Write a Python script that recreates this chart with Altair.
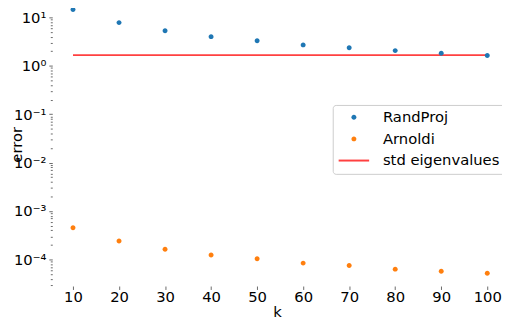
import altair as alt
import pandas as pd

# ---- data ----
k_values = [10, 20, 30, 40, 50, 60, 70, 80, 90, 100]
randproj = [14.5, 7.8, 5.3, 4.0, 3.3, 2.7, 2.36, 2.06, 1.82, 1.63]
arnoldi = [4.5e-4, 2.4e-4, 1.63e-4, 1.24e-4, 1.03e-4, 8.4e-5, 7.5e-5, 6.3e-5, 5.7e-5, 5.2e-5]
std_eigen = 1.66
series_names = ["RandProj", "Arnoldi", "std eigenvalues"]
series_colors = ["#1f77b4", "#ff7f0e", "#ff4040"]
x_ticks = [10, 20, 30, 40, 50, 60, 70, 80, 90, 100]
y_major_exps = [-4, -3, -2, -1, 0, 1]
y_major_labels = ["10⁻⁴", "10⁻³", "10⁻²", "10⁻¹", "10⁰", "10¹"]

# marker glyphs (unit-space symbol paths): small dot and a long thin bar for the line entry
dot_path = "M0.5,0A0.5,0.5,0,1,1,-0.5,0A0.5,0.5,0,1,1,0.5,0Z"
line_path = "M-3.1,-0.2H3.1V0.2H-3.1Z"
series_shapes = [dot_path, dot_path, line_path]

points = pd.DataFrame({
    "k": k_values * 2,
    "error": randproj + arnoldi,
    "series": ["RandProj"] * len(k_values) + ["Arnoldi"] * len(k_values),
})
line = pd.DataFrame({"k0": [k_values[0]], "k1": [k_values[-1]],
                     "error": [std_eigen], "series": ["std eigenvalues"]})

y_lo, y_hi = 10 ** -4.549, 10 ** 1.4065
y_tick_vals = []
for e in range(-5, 2):
    for m in range(1, 10):
        v = m * 10.0 ** e
        if y_lo <= v <= y_hi:
            y_tick_vals.append(v)

is_major = "abs(log(datum.value)/LN10 - round(log(datum.value)/LN10)) < 1e-6"
label_list = "[" + ",".join("'%s'" % s for s in y_major_labels) + "]"
label_expr = "%s ? %s[round(log(datum.value)/LN10) - (%d)] : ''" % (is_major, label_list, y_major_exps[0])

x_scale = alt.Scale(domain=[5.5, 103.2], nice=False, zero=False)
y_scale = alt.Scale(type="log", domain=[y_lo, y_hi], nice=False)
color_scale = alt.Scale(domain=series_names, range=series_colors)
shape_scale = alt.Scale(domain=series_names, range=series_shapes)

FS = 15
x_axis = alt.Axis(values=x_ticks, title="k", grid=False, domain=False,
                  tickSize=3.5, tickColor="#444", tickWidth=0.8,
                  labelFontSize=FS, labelPadding=0, labelColor="black",
                  titleFontSize=FS, titleFontWeight="normal", titleColor="black",
                  titleY=31, titleBaseline="alphabetic")
y_axis = alt.Axis(values=y_tick_vals, title="error", grid=False, domain=False,
                  labelExpr=label_expr,
                  tickSize={"condition": {"test": is_major, "value": 3.5}, "value": 2},
                  tickColor="#444", tickWidth=0.8,
                  labelFontSize=FS, labelPadding=3, labelColor="black",
                  titleFontSize=FS, titleFontWeight="normal", titleColor="black",
                  titleX=-31, titleY=149, titleAngle=270, titleBaseline="alphabetic",
                  titleAlign="center")

legend = alt.Legend(
    title=None, orient="none", legendX=285, legendY=109,
    labelFontSize=FS, labelColor="black", labelOffset=22,
    rowPadding=6, padding=5, symbolOffset=9,
    strokeColor="#cccccc", fillColor="white", cornerRadius=3,
    symbolStrokeWidth=0, symbolSize=100,
)

rule = alt.Chart(line).mark_rule(strokeWidth=2).encode(
    x=alt.X("k0:Q", scale=x_scale, axis=x_axis),
    x2="k1:Q",
    y=alt.Y("error:Q", scale=y_scale, axis=y_axis),
    stroke=alt.Stroke("series:N", scale=color_scale, legend=legend),
)

pts = alt.Chart(points).mark_point(filled=True, opacity=1, strokeWidth=0, size=100).encode(
    x=alt.X("k:Q", scale=x_scale, axis=x_axis),
    y=alt.Y("error:Q", scale=y_scale, axis=y_axis),
    fill=alt.Fill("series:N", scale=color_scale, legend=legend),
    shape=alt.Shape("series:N", scale=shape_scale, legend=legend),
)

chart = alt.layer(rule, pts).properties(
    width=457, height=293,
    autosize=alt.AutoSizeParams(type="none"),
    padding={"left": 45, "top": -13, "right": 0, "bottom": 32},
).configure(font="DejaVu Sans").configure_view(stroke=None)

chart.save("out.html", embed_options={"renderer": "svg", "actions": False})
